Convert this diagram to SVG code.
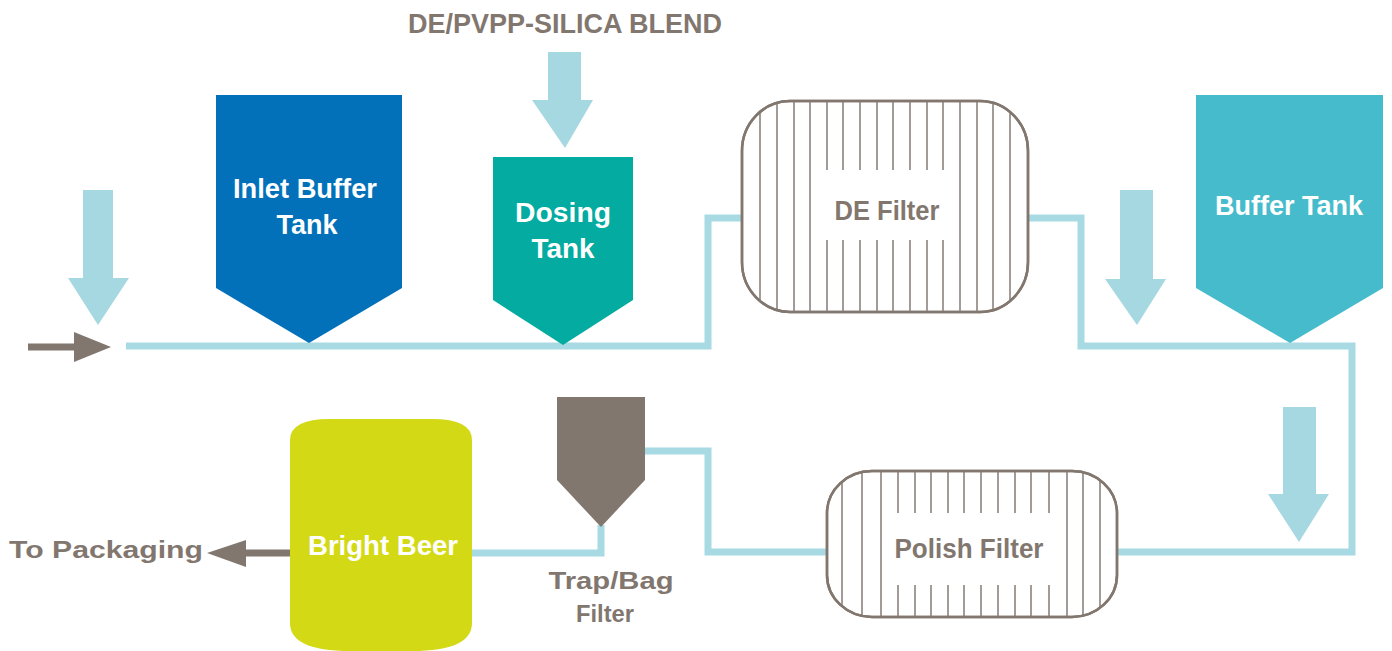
<svg xmlns="http://www.w3.org/2000/svg" width="1392" height="651" viewBox="0 0 1392 651">
<style>
.pipe{fill:none;stroke:#a8dae3;stroke-width:7}
.flow{fill:#a6d8e1}
.lbl{font-family:"Liberation Sans",Arial,sans-serif;font-weight:bold;fill:#ffffff;font-size:27px;text-anchor:middle}
.glbl{font-family:"Liberation Sans",Arial,sans-serif;font-weight:bold;fill:#82776f;text-anchor:middle}
.shell{fill:#ffffff;stroke:#82776f;stroke-width:2.5}
.hatch{stroke:#8b837f;stroke-width:1.6}
</style>
<defs>
<clipPath id="deClip"><rect x="742" y="101" width="286" height="211" rx="48" ry="50"/></clipPath>
<clipPath id="polClip"><rect x="827" y="471" width="290" height="146" rx="45" ry="42"/></clipPath>
</defs>
<rect width="1392" height="651" fill="#ffffff"/>

<g id="connectors">
<path class="pipe" d="M126,346 H708 V218 H742"/>
<path class="pipe" d="M1028,218 H1081 V346 H1352 V552 H1116"/>
<path class="pipe" d="M827,552 H708 V451 H645"/>
<path class="pipe" d="M601,525 V553 H472"/>
<line x1="28" y1="347" x2="80" y2="347" stroke="#82776f" stroke-width="7"/>
<polygon points="74,332 111,347 74,362" fill="#82776f"/>
<line x1="290" y1="553" x2="240" y2="553" stroke="#82776f" stroke-width="7"/>
<polygon points="246,540 207,553 246,567" fill="#82776f"/>
</g>

<g id="flow-arrows">
<polygon class="flow" points="83,190 113,190 113,278 129,278 98,325 68,278 83,278"/>
<polygon class="flow" points="548,52 581,52 581,100 593,100 565,148 532,100 548,100"/>
<polygon class="flow" points="1120,190 1153,190 1153,279 1166,279 1137,325 1105,279 1120,279"/>
<polygon class="flow" points="1283,407 1316,407 1316,494 1329,494 1299,542 1268,494 1283,494"/>
</g>

<g id="title">
<text class="glbl" x="565" y="33" font-size="28" textLength="314" lengthAdjust="spacingAndGlyphs">DE/PVPP-SILICA BLEND</text>
</g>

<g id="inlet-buffer-tank">
<polygon points="216,95 402,95 402,288 309,343 216,288" fill="#0271b9"/>
<text class="lbl" x="305" y="198" textLength="144" lengthAdjust="spacingAndGlyphs">Inlet Buffer</text>
<text class="lbl" x="307" y="234" textLength="61" lengthAdjust="spacingAndGlyphs">Tank</text>
</g>

<g id="dosing-tank">
<polygon points="493,157 633,157 633,300 563,345 493,300" fill="#03aba0"/>
<text class="lbl" x="563" y="222" textLength="96" lengthAdjust="spacingAndGlyphs">Dosing</text>
<text class="lbl" x="563" y="258" textLength="63" lengthAdjust="spacingAndGlyphs">Tank</text>
</g>

<g id="de-filter">
<rect class="shell" x="742" y="101" width="286" height="211" rx="48" ry="50"/>
<g clip-path="url(#deClip)" class="hatch">
<line x1="760" y1="100" x2="760" y2="313"/>
<line x1="777" y1="100" x2="777" y2="313"/>
<line x1="794" y1="100" x2="794" y2="313"/>
<line x1="810" y1="100" x2="810" y2="313"/>
<line x1="960" y1="100" x2="960" y2="313"/>
<line x1="977" y1="100" x2="977" y2="313"/>
<line x1="993" y1="100" x2="993" y2="313"/>
<line x1="1010" y1="100" x2="1010" y2="313"/>
<path d="M827,100V170M843,100V170M860,100V170M877,100V170M893,100V170M910,100V170M927,100V170M943,100V170M827,240V313M843,240V313M860,240V313M877,240V313M893,240V313M910,240V313M927,240V313M943,240V313"/>
</g>
<rect x="742" y="101" width="286" height="211" rx="48" ry="50" fill="none" stroke="#82776f" stroke-width="2.5"/>
<text class="glbl" x="887" y="220" font-size="27" textLength="105" lengthAdjust="spacingAndGlyphs">DE Filter</text>
</g>

<g id="buffer-tank">
<polygon points="1196,95 1383,95 1383,288 1290,343 1196,288" fill="#45bbcc"/>
<text class="lbl" x="1289" y="215" textLength="148" lengthAdjust="spacingAndGlyphs">Buffer Tank</text>
</g>

<g id="polish-filter">
<rect class="shell" x="827" y="471" width="290" height="146" rx="45" ry="42"/>
<g clip-path="url(#polClip)" class="hatch">
<line x1="842" y1="470" x2="842" y2="618"/>
<line x1="862" y1="470" x2="862" y2="618"/>
<line x1="881" y1="470" x2="881" y2="618"/>
<line x1="1067" y1="470" x2="1067" y2="618"/>
<line x1="1083" y1="470" x2="1083" y2="618"/>
<line x1="1100" y1="470" x2="1100" y2="618"/>
<path d="M898,470V513M915,470V513M931,470V513M948,470V513M964,470V513M981,470V513M998,470V513M1015,470V513M1031,470V513M1049,470V513M898,585V618M915,585V618M931,585V618M948,585V618M964,585V618M981,585V618M998,585V618M1015,585V618M1031,585V618M1049,585V618"/>
</g>
<rect x="827" y="471" width="290" height="146" rx="45" ry="42" fill="none" stroke="#82776f" stroke-width="2.5"/>
<text class="glbl" x="969" y="558" font-size="27" textLength="149" lengthAdjust="spacingAndGlyphs">Polish Filter</text>
</g>

<g id="trap-bag-filter">
<polygon points="557,397 645,397 645,480 601,527 557,480" fill="#82776f"/>
<text class="glbl" x="611" y="589" font-size="23" textLength="125" lengthAdjust="spacingAndGlyphs">Trap/Bag</text>
<text class="glbl" x="605" y="622" font-size="23" textLength="58" lengthAdjust="spacingAndGlyphs">Filter</text>
</g>

<g id="bright-beer">
<path d="M330,419 H432 Q472,419 472,440 V623 Q472,651 412,651 H350 Q290,651 290,623 V440 Q290,419 330,419 Z" fill="#d3d915"/>
<text class="lbl" x="383" y="555" textLength="150" lengthAdjust="spacingAndGlyphs">Bright Beer</text>
</g>

<g id="to-packaging">
<text class="glbl" x="106" y="558" font-size="24" textLength="194" lengthAdjust="spacingAndGlyphs">To Packaging</text>
</g>
</svg>
